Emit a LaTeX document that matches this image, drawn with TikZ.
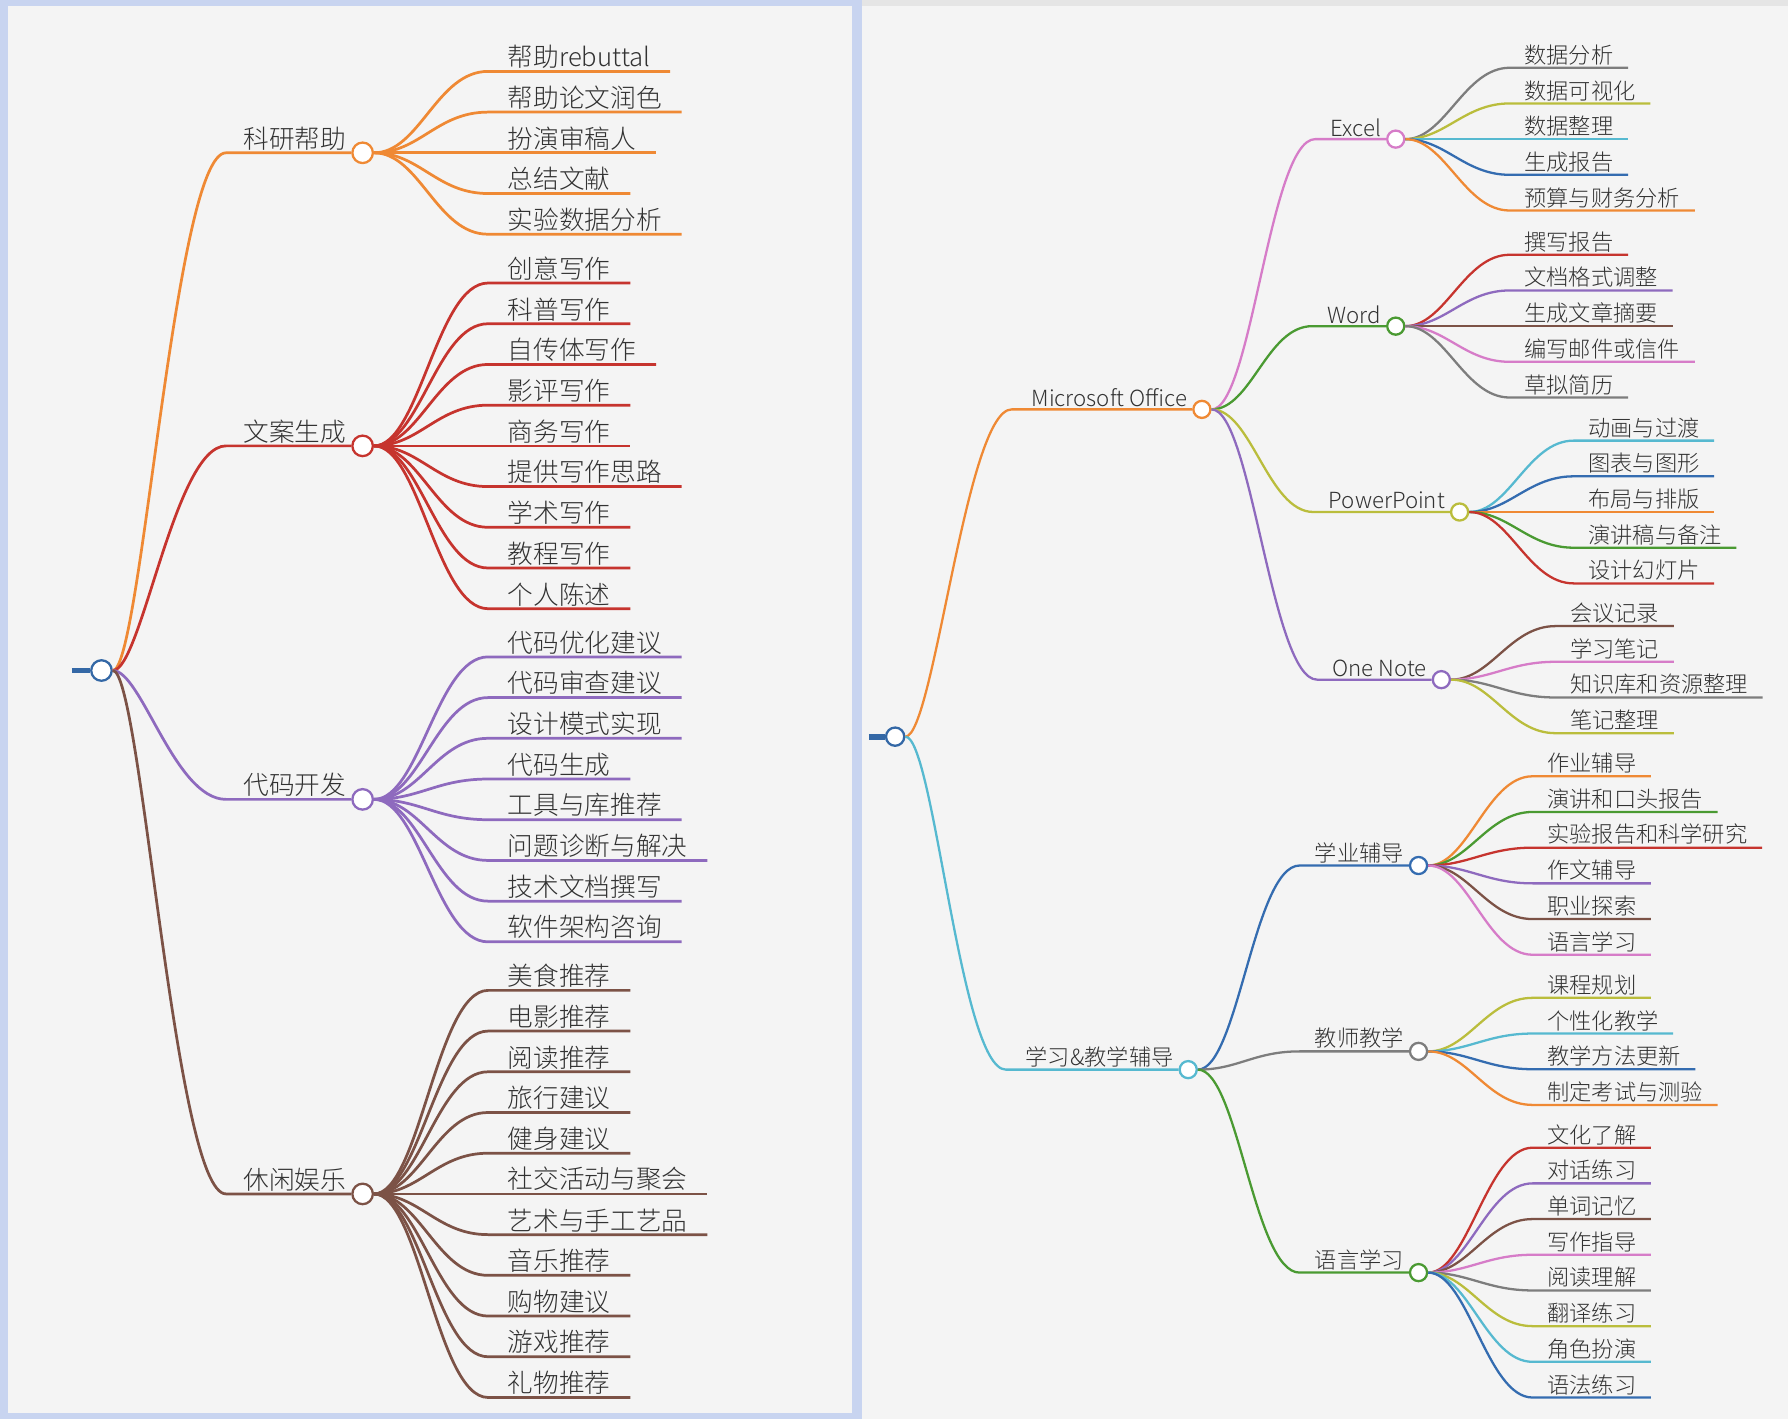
\documentclass[tikz,border=0pt]{standalone}
\usepackage{fontspec}
\setmainfont{Noto Sans CJK SC}[UprightFont={* Light}]
\usetikzlibrary{calc}

\definecolor{korange}{RGB}{239,137,52}
\definecolor{kred}{RGB}{198,52,46}
\definecolor{kpurple}{RGB}{142,106,190}
\definecolor{kbrown}{RGB}{124,82,70}
\definecolor{kcyan}{RGB}{86,185,208}
\definecolor{kblue}{RGB}{52,108,176}
\definecolor{kgreen}{RGB}{74,154,50}
\definecolor{kolive}{RGB}{186,189,60}
\definecolor{kpink}{RGB}{214,124,200}
\definecolor{kgray}{RGB}{125,125,125}
\definecolor{kroot}{RGB}{52,104,166}
\definecolor{ktext}{RGB}{50,50,50}
\definecolor{kpaper}{RGB}{244,244,244}
\definecolor{kframe}{RGB}{200,212,240}

\begin{document}
\begin{tikzpicture}[
    x=0.5pt, y=-0.5pt,
    lineL/.style={line width=1.2pt},
    lineR/.style={line width=1pt},
    knob/.style={circle, draw=#1, fill=white, line width=1pt, inner sep=0pt, minimum size=7.5pt},
    knobL/.style={knob=#1, minimum size=9pt},
    leafL/.style={anchor=south west, inner xsep=8.5pt, inner ysep=1pt, text=ktext, font=\fontsize{11.25}{13}\selectfont},
    leafR/.style={anchor=south west, inner xsep=6.25pt, inner ysep=1pt, text=ktext, font=\fontsize{9.75}{11}\selectfont},
    labL/.style={anchor=south east, inner xsep=2pt, inner ysep=1pt, text=ktext, font=\fontsize{11.25}{13}\selectfont},
    labR/.style={anchor=south east, inner xsep=2pt, inner ysep=1pt, text=ktext, font=\fontsize{9.75}{11}\selectfont}
]
    \useasboundingbox (0,0) rectangle (1568,1244);
    % paper
    \fill[kframe] (0,0) rectangle (1568,1244);
    \fill[kpaper] (7,5) rectangle (747,1239);
    \fill[black!10] (756,0) rectangle (1568,5);
    \fill[kpaper] (756,5) rectangle (1568,1244);

    % ---- left map ----
    \node[knobL=kroot] (rootL) at (89,588) {};
    \coordinate (stubL) at (63,588);
    \draw[kroot, line width=2.5pt] (stubL) -- (rootL.west);

    \node[knobL=korange] (ky) at (318,134) {};
    \node[labL] (kyl) at (ky.west) {科研帮助};
    \draw[lineL, korange] (rootL.east) .. controls +(25,0) and +(-45,0) .. ($(kyl.south west)+(-11,0)$) -- (ky.west);

    \node[knobL=kred] (wa) at (318,391) {};
    \node[labL] (wal) at (wa.west) {文案生成};
    \draw[lineL, kred] (rootL.east) .. controls +(25,0) and +(-45,0) .. ($(wal.south west)+(-11,0)$) -- (wa.west);

    \node[knobL=kpurple] (dm) at (318,701) {};
    \node[labL] (dml) at (dm.west) {代码开发};
    \draw[lineL, kpurple] (rootL.east) .. controls +(25,0) and +(-45,0) .. ($(dml.south west)+(-11,0)$) -- (dm.west);

    \node[knobL=kbrown] (xx) at (318,1047) {};
    \node[labL] (xxl) at (xx.west) {休闲娱乐};
    \draw[lineL, kbrown] (rootL.east) .. controls +(25,0) and +(-45,0) .. ($(xxl.south west)+(-11,0)$) -- (xx.west);

    \foreach \t [count=\i] in {帮助rebuttal, 帮助论文润色, 扮演审稿人, 总结文献, 实验数据分析} {
        \node[leafL] (ky\i) at ($(ky)+(110,{(\i-3)*35.7})$) {\t};
        \draw[lineL, korange] (ky.east) .. controls +(40,0) and +(-45,0) .. (ky\i.south west) -- (ky\i.south east);
    }
    \foreach \t [count=\i] in {创意写作, 科普写作, 自传体写作, 影评写作, 商务写作, 提供写作思路, 学术写作, 教程写作, 个人陈述} {
        \node[leafL] (wa\i) at ($(wa)+(110,{(\i-5)*35.7})$) {\t};
        \draw[lineL, kred] (wa.east) .. controls +(40,0) and +(-45,0) .. (wa\i.south west) -- (wa\i.south east);
    }
    \foreach \t [count=\i] in {代码优化建议, 代码审查建议, 设计模式实现, 代码生成, 工具与库推荐, 问题诊断与解决, 技术文档撰写, 软件架构咨询} {
        \node[leafL] (dm\i) at ($(dm)+(110,{(\i-4.5)*35.7})$) {\t};
        \draw[lineL, kpurple] (dm.east) .. controls +(40,0) and +(-45,0) .. (dm\i.south west) -- (dm\i.south east);
    }
    \foreach \t [count=\i] in {美食推荐, 电影推荐, 阅读推荐, 旅行建议, 健身建议, 社交活动与聚会, 艺术与手工艺品, 音乐推荐, 购物建议, 游戏推荐, 礼物推荐} {
        \node[leafL] (xx\i) at ($(xx)+(110,{(\i-6)*35.7})$) {\t};
        \draw[lineL, kbrown] (xx.east) .. controls +(40,0) and +(-45,0) .. (xx\i.south west) -- (xx\i.south east);
    }

    % ---- right map ----
    \node[knob=kroot, minimum size=8pt] (rootR) at (785,646) {};
    \coordinate (stubR) at (762,646);
    \draw[kroot, line width=2.5pt] (stubR) -- (rootR.west);

    \node[knob=korange] (ms) at (1054,359) {};
    \node[labR] (msl) at (ms.west) {Microsoft Office};
    \draw[lineR, korange] (rootR.east) .. controls +(25,0) and +(-40,0) .. ($(msl.south west)+(-13,0)$) -- (ms.west);

    \node[knob=kcyan] (st) at (1042,938) {};
    \node[labR] (stl) at (st.west) {学习\&教学辅导};
    \draw[lineR, kcyan] (rootR.east) .. controls +(25,0) and +(-40,0) .. ($(stl.south west)+(-13,0)$) -- (st.west);

    \node[knob=kpink] (ex) at (1224,122) {};
    \node[labR] (exl) at (ex.west) {Excel};
    \draw[lineR, kpink] (ms.east) .. controls +(35,0) and +(-40,0) .. ($(exl.south west)+(-9,0)$) -- (ex.west);

    \node[knob=kgreen] (wd) at (1224,286) {};
    \node[labR] (wdl) at (wd.west) {Word};
    \draw[lineR, kgreen] (ms.east) .. controls +(35,0) and +(-40,0) .. ($(wdl.south west)+(-9,0)$) -- (wd.west);

    \node[knob=kolive] (pp) at (1280,449) {};
    \node[labR] (ppl) at (pp.west) {PowerPoint};
    \draw[lineR, kolive] (ms.east) .. controls +(35,0) and +(-40,0) .. ($(ppl.south west)+(-9,0)$) -- (pp.west);

    \node[knob=kpurple] (on) at (1264,596) {};
    \node[labR] (onl) at (on.west) {One Note};
    \draw[lineR, kpurple] (ms.east) .. controls +(35,0) and +(-40,0) .. ($(onl.south west)+(-9,0)$) -- (on.west);

    \node[knob=kblue] (xy) at (1244,759) {};
    \node[labR] (xyl) at (xy.west) {学业辅导};
    \draw[lineR, kblue] (st.east) .. controls +(35,0) and +(-40,0) .. ($(xyl.south west)+(-9,0)$) -- (xy.west);

    \node[knob=kgray] (js) at (1244,922) {};
    \node[labR] (jsl) at (js.west) {教师教学};
    \draw[lineR, kgray] (st.east) .. controls +(35,0) and +(-40,0) .. ($(jsl.south west)+(-9,0)$) -- (js.west);

    \node[knob=kgreen] (yy) at (1244,1116) {};
    \node[labR] (yyl) at (yy.west) {语言学习};
    \draw[lineR, kgreen] (st.east) .. controls +(35,0) and +(-40,0) .. ($(yyl.south west)+(-9,0)$) -- (yy.west);

    \foreach \t/\c [count=\i] in {数据分析/kgray, 数据可视化/kolive, 数据整理/kcyan, 生成报告/kblue, 预算与财务分析/korange} {
        \node[leafR] (ex\i) at ($(ex)+(100,{(\i-3)*31.3})$) {\t};
        \draw[lineR, color=\c] (ex.east) .. controls +(35,0) and +(-40,0) .. (ex\i.south west) -- (ex\i.south east);
    }
    \foreach \t/\c [count=\i] in {撰写报告/kred, 文档格式调整/kpurple, 生成文章摘要/kbrown, 编写邮件或信件/kpink, 草拟简历/kgray} {
        \node[leafR] (wd\i) at ($(wd)+(100,{(\i-3)*31.3})$) {\t};
        \draw[lineR, color=\c] (wd.east) .. controls +(35,0) and +(-40,0) .. (wd\i.south west) -- (wd\i.south east);
    }
    \foreach \t/\c [count=\i] in {动画与过渡/kcyan, 图表与图形/kblue, 布局与排版/korange, 演讲稿与备注/kgreen, 设计幻灯片/kred} {
        \node[leafR] (pp\i) at ($(pp)+(100,{(\i-3)*31.3})$) {\t};
        \draw[lineR, color=\c] (pp.east) .. controls +(35,0) and +(-40,0) .. (pp\i.south west) -- (pp\i.south east);
    }
    \foreach \t/\c [count=\i] in {会议记录/kbrown, 学习笔记/kpink, 知识库和资源整理/kgray, 笔记整理/kolive} {
        \node[leafR] (on\i) at ($(on)+(100,{(\i-2.5)*31.3})$) {\t};
        \draw[lineR, color=\c] (on.east) .. controls +(35,0) and +(-40,0) .. (on\i.south west) -- (on\i.south east);
    }
    \foreach \t/\c [count=\i] in {作业辅导/korange, 演讲和口头报告/kgreen, 实验报告和科学研究/kred, 作文辅导/kpurple, 职业探索/kbrown, 语言学习/kpink} {
        \node[leafR] (xy\i) at ($(xy)+(100,{(\i-3.5)*31.3})$) {\t};
        \draw[lineR, color=\c] (xy.east) .. controls +(35,0) and +(-40,0) .. (xy\i.south west) -- (xy\i.south east);
    }
    \foreach \t/\c [count=\i] in {课程规划/kolive, 个性化教学/kcyan, 教学方法更新/kblue, 制定考试与测验/korange} {
        \node[leafR] (js\i) at ($(js)+(100,{(\i-2.5)*31.3})$) {\t};
        \draw[lineR, color=\c] (js.east) .. controls +(35,0) and +(-40,0) .. (js\i.south west) -- (js\i.south east);
    }
    \foreach \t/\c [count=\i] in {文化了解/kred, 对话练习/kpurple, 单词记忆/kbrown, 写作指导/kpink, 阅读理解/kgray, 翻译练习/kolive, 角色扮演/kcyan, 语法练习/kblue} {
        \node[leafR] (yy\i) at ($(yy)+(100,{(\i-4.5)*31.3})$) {\t};
        \draw[lineR, color=\c] (yy.east) .. controls +(35,0) and +(-40,0) .. (yy\i.south west) -- (yy\i.south east);
    }
\end{tikzpicture}
\end{document}
